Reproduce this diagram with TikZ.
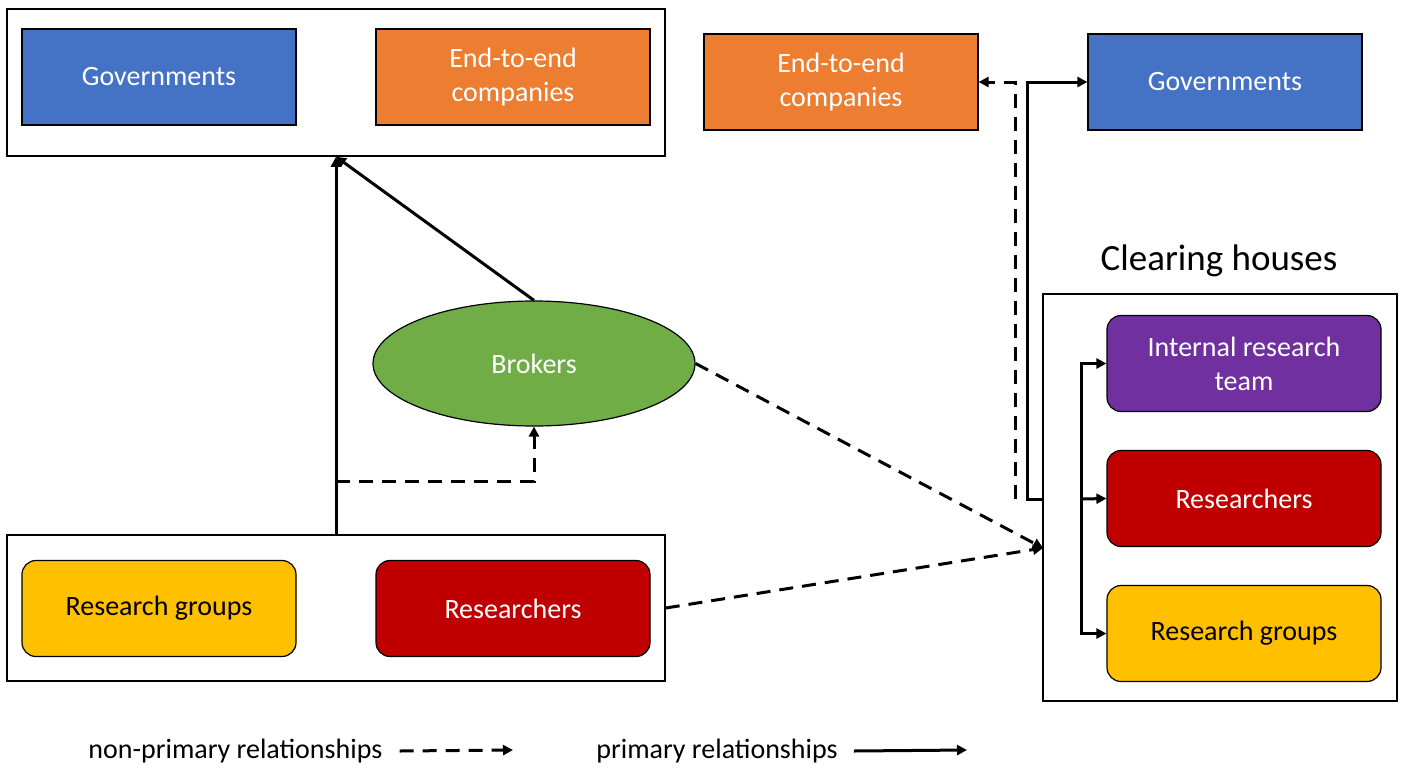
\documentclass[tikz,border=0pt]{standalone}
\usepackage{fontspec}
\setmainfont{Carlito}
\usetikzlibrary{shapes.geometric, arrows.meta}

\begin{document}
\begin{tikzpicture}[x=0.5pt, y=-0.5pt,
  box/.style={draw=black, line width=0.75pt, fill=white, inner sep=0pt},
  unit/.style={draw=black, line width=0.6pt, minimum width=137pt, minimum height=48pt, inner sep=0pt, align=center, text=white, font=\fontsize{14}{17}\selectfont},
  roundunit/.style={unit, rounded corners=7pt},
  prim/.style={line width=1.5pt, -{Triangle[length=5pt, width=5pt]}},
  nonprim/.style={prim, dash pattern=on 7pt off 4.5pt},
  legendtext/.style={font=\fontsize{14}{17}\selectfont, inner sep=0pt}]
\useasboundingbox (0,0) rectangle (1413,776);

% group boxes
\node[box, minimum width=329pt, minimum height=73.5pt] (topbox) at (336,82.5) {};
\node[box, minimum width=329pt, minimum height=73pt] (botbox) at (336,608) {};
\node[box, minimum width=177pt, minimum height=203.5pt] (clearbox) at (1220,497.5) {};
\node[font=\fontsize{18.5}{22}\selectfont, inner sep=0pt] (clearlabel) at (1219,261) {Clearing houses};

% left side units
\node[unit, fill={rgb,255:red,68;green,114;blue,196}] (gov1) at (159,77) {Governments};
\node[unit, fill={rgb,255:red,237;green,125;blue,49}] (etoe1) at (513,77) {End-to-end\\companies};
\node[roundunit, fill={rgb,255:red,255;green,192;blue,0}, text=black] (rgroup1) at (159,608.5) {Research groups};
\node[roundunit, fill={rgb,255:red,192;green,0;blue,0}] (rsrch1) at (513,608.5) {Researchers};
\node[ellipse, draw=black, line width=0.6pt, fill={rgb,255:red,112;green,173;blue,71}, minimum width=161pt, minimum height=62.5pt, inner sep=0pt, text=white, font=\fontsize{14}{17}\selectfont] (brokers) at (534,363.5) {Brokers};

% right side units
\node[unit, fill={rgb,255:red,237;green,125;blue,49}] (etoe2) at (841,82) {End-to-end\\companies};
\node[unit, fill={rgb,255:red,68;green,114;blue,196}] (gov2) at (1225,82) {Governments};
\node[roundunit, fill={rgb,255:red,112;green,48;blue,160}] (internal) at (1244,363.5) {Internal research\\team};
\node[roundunit, fill={rgb,255:red,192;green,0;blue,0}] (rsrch2) at (1244,498.5) {Researchers};
\node[roundunit, fill={rgb,255:red,255;green,192;blue,0}, text=black] (rgroup2) at (1244,633.5) {Research groups};

% primary relationships
\draw[prim] (botbox.north) -- (topbox.south);
\draw[prim] (brokers.north) -- (topbox.south);
\coordinate (solidfoot) at (1027,499);
\draw[prim] (clearbox.west |- solidfoot) -- (solidfoot) |- (gov2.west);
\coordinate (fork) at (1081,499);
\draw[prim] (fork) |- (internal.west);
\draw[prim] (fork) -- (rsrch2.west);
\draw[prim] (fork) |- (rgroup2.west);

% non-primary relationships
\coordinate (split) at (336,481);
\draw[nonprim] (split) -| (brokers.south);
\coordinate (dashfoot) at (1015,499);
\draw[nonprim] (dashfoot) |- (etoe2.east);
\coordinate (clearin) at (1043,548);
\draw[nonprim] (brokers.east) -- (clearin);
\draw[nonprim] (botbox.east) -- (clearin);

% legend
\node[legendtext, anchor=west] (lgnon) at (88,751) {non-primary relationships};
\coordinate (lgnonend) at (513,750);
\draw[nonprim] (lgnon.east) ++(17,0) coordinate (lgnonstart) -- (lgnonend);
\node[legendtext, anchor=west] (lgprim) at (596,751) {primary relationships};
\coordinate (lgprimend) at (967,750);
\draw[prim] (lgprim.east) ++(16,0) -- (lgprimend);
\end{tikzpicture}
\end{document}
